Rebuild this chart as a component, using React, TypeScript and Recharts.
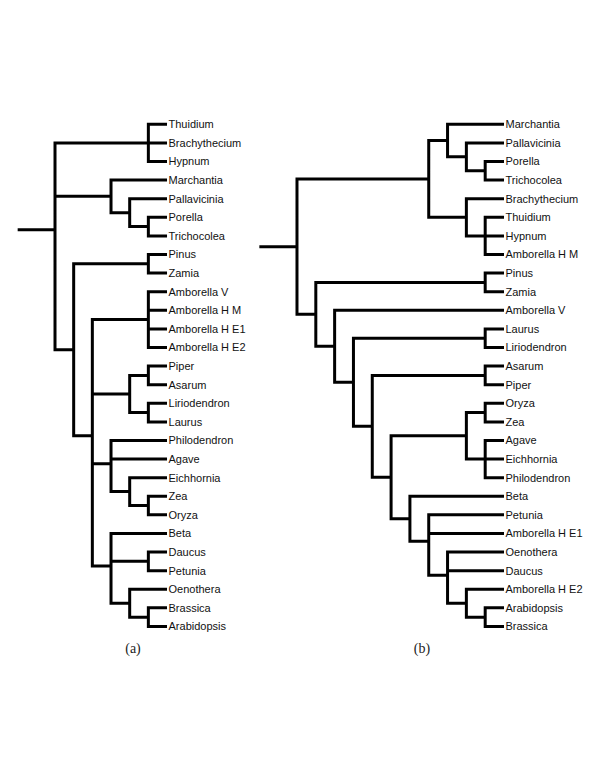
import { ComposedChart, Line, Scatter, XAxis, YAxis } from "recharts";

type Tree = number | Tree[];

// leaf order, top to bottom
const leavesA = [
  "Thuidium", "Brachythecium", "Hypnum", "Marchantia", "Pallavicinia", "Porella",
  "Trichocolea", "Pinus", "Zamia", "Amborella V", "Amborella H M", "Amborella H E1",
  "Amborella H E2", "Piper", "Asarum", "Liriodendron", "Laurus", "Philodendron",
  "Agave", "Eichhornia", "Zea", "Oryza", "Beta", "Daucus", "Petunia", "Oenothera",
  "Brassica", "Arabidopsis",
];

// topology as nested leaf indices
const treeA: Tree = [
  [0, 1, 2],
  [3, [4, [5, 6]]],
  [[7, 8], [[9, 10, 11, 12], [[13, 14], [15, 16]], [17, 18, [19, [20, 21]]], [22, [23, 24], [25, [26, 27]]]]],
];

const leavesB = [
  "Marchantia", "Pallavicinia", "Porella", "Trichocolea", "Brachythecium", "Thuidium",
  "Hypnum", "Amborella H M", "Pinus", "Zamia", "Amborella V", "Laurus", "Liriodendron",
  "Asarum", "Piper", "Oryza", "Zea", "Agave", "Eichhornia", "Philodendron", "Beta",
  "Petunia", "Amborella H E1", "Oenothera", "Daucus", "Amborella H E2", "Arabidopsis",
  "Brassica",
];

const treeB: Tree = [
  [[0, [1, [2, 3]]], [4, [5, 6, 7]]],
  [[8, 9], [10, [[11, 12], [[13, 14], [[[15, 16], [17, 18, 19]], [20, [21, 22, [23, 24, [25, [26, 27]]]]]]]]]],
];

const captions = ["(a)", "(b)"];

const INK = "#000";
const STUB = 2; // root stub length, in levels

interface Node {
  x: number;
  y: number;
  kids: Node[];
}

function height(t: Tree): number {
  return typeof t === "number" ? 0 : 1 + Math.max(...t.map(height));
}

function place(t: Tree, top: number): Node {
  if (typeof t === "number") return { x: top, y: t, kids: [] };
  const kids = t.map((c) => place(c, top));
  const y = kids.reduce((s, k) => s + k.y, 0) / kids.length;
  return { x: top - height(t), y, kids };
}

function segments(t: Tree) {
  const root = place(t, height(t));
  const pts: { x: number; y: number | null }[] = [
    { x: root.x - STUB, y: root.y },
    { x: root.x, y: root.y },
    { x: root.x, y: null },
  ];
  const walk = (n: Node) => {
    n.kids.forEach((k) => {
      pts.push({ x: n.x, y: n.y }, { x: n.x, y: k.y }, { x: k.x, y: k.y }, { x: k.x, y: null });
      walk(k);
    });
  };
  walk(root);
  return pts;
}

const tips = (names: string[], t: Tree) => names.map((name, i) => ({ x: height(t), y: i, name }));

const LeafLabel = (p: any) => (
  <text
    x={p.cx + 1.5}
    y={p.cy}
    dy="0.35em"
    fontSize={11}
    fontFamily="'Liberation Sans', Arial, sans-serif"
    fill="#111"
  >
    {p.payload.name}
  </text>
);

export default function App() {
  const segA = segments(treeA);
  const segB = segments(treeB);
  return (
    <div style={{ position: "absolute", left: 0, top: 0, width: 600, height: 776, background: "#fff" }}>
      <ComposedChart width={600} height={776} margin={{ top: 0, right: 0, bottom: 0, left: 0 }}>
        <XAxis xAxisId="a" dataKey="x" type="number" domain={[-2.946, 29.19]} allowDataOverflow hide />
        <XAxis xAxisId="b" dataKey="x" type="number" domain={[-15.78, 16.1]} allowDataOverflow hide />
        <YAxis dataKey="y" type="number" domain={[-6.683, 35.04]} reversed allowDataOverflow hide />
        <Line
          xAxisId="a"
          data={segA}
          dataKey="y"
          stroke={INK}
          strokeWidth={3}
          dot={false}
          activeDot={false}
          connectNulls={false}
          isAnimationActive={false}
        />
        <Line
          xAxisId="b"
          data={segB}
          dataKey="y"
          stroke={INK}
          strokeWidth={3}
          dot={false}
          activeDot={false}
          connectNulls={false}
          isAnimationActive={false}
        />
        <Scatter xAxisId="a" data={tips(leavesA, treeA)} shape={LeafLabel} isAnimationActive={false} />
        <Scatter xAxisId="b" data={tips(leavesB, treeB)} shape={LeafLabel} isAnimationActive={false} />
      </ComposedChart>
      {captions.map((c, i) => (
        <div
          key={c}
          style={{
            position: "absolute",
            left: (i === 0 ? 133 : 422) - 20,
            top: 640,
            width: 40,
            textAlign: "center",
            fontFamily: "'Liberation Serif', serif",
            fontSize: 14,
            lineHeight: "18px",
            color: "#222",
          }}
        >
          {c}
        </div>
      ))}
    </div>
  );
}
